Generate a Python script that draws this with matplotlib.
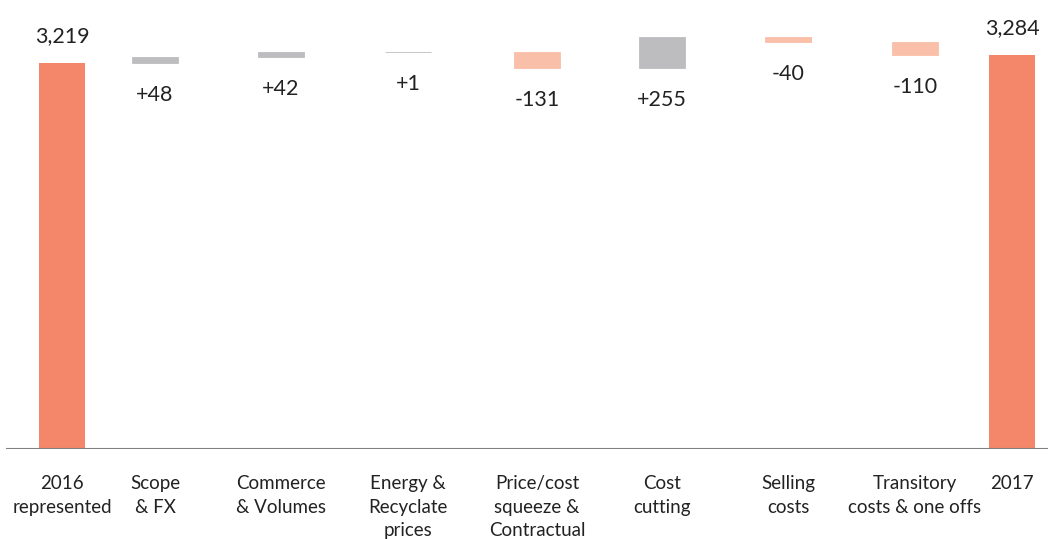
import numpy as np
import matplotlib.pyplot as plt

plt.rcParams['font.family'] = ['Lato', 'DejaVu Sans']

categories = ['2016\nrepresented', 'Scope\n& FX', 'Commerce\n& Volumes',
              'Energy &\nRecyclate\nprices', 'Price/cost\nsqueeze &\nContractual',
              'Cost\ncutting', 'Selling\ncosts', 'Transitory\ncosts & one offs', '2017']
start_total = 3219
changes = [48, 42, 1, -131, 255, -40, -110]
end_total = 3284
change_labels = ['+48', '+42', '+1', '-131', '+255', '-40', '-110']
total_labels = ['3,219', '3,284']

# x positions (layout)
xpos = [62, 155, 281, 408, 537, 662, 788, 915, 1012]
width = 46

c_total = '#F4876A'
c_neg = '#F9BFA8'
c_pos = '#BDBDC0'

fig = plt.figure(figsize=(10.48, 5.39), dpi=100)
ax = fig.add_axes([0, 90/539, 1, 449/539])
ax.set_xlim(0, 1048)
ax.set_ylim(0, 3744)

ax.bar(xpos[0], start_total, width=width, color=c_total)
ax.annotate(total_labels[0], (xpos[0], start_total), xytext=(0, 12), textcoords='offset points',
            ha='center', va='bottom', fontsize=15.5, color='#222222')

level = start_total
for i, d in enumerate(changes):
    x = xpos[i + 1]
    bottom = level if d > 0 else level + d
    col = c_pos if d > 0 else c_neg
    ax.bar(x, abs(d), bottom=bottom, width=width, color=col, edgecolor=col, linewidth=0.6)
    ax.annotate(change_labels[i], (x, bottom), xytext=(0, -16), textcoords='offset points',
                ha='center', va='top', fontsize=15.5, color='#222222')
    level += d

ax.bar(xpos[-1], end_total, width=width, color=c_total)
ax.annotate(total_labels[1], (xpos[-1], end_total), xytext=(0, 12), textcoords='offset points',
            ha='center', va='bottom', fontsize=15.5, color='#222222')

ax.axhline(0, xmin=7/1048, xmax=1, color='#808080', lw=1.5)

for x, lab in zip(xpos, categories):
    ax.text(x, -220, lab, ha='center', va='top', fontsize=13.5, color='#222222', linespacing=1.45)

for s in ax.spines.values():
    s.set_visible(False)
ax.set_xticks([])
ax.set_yticks([])

fig.savefig('out.png', dpi=100)
